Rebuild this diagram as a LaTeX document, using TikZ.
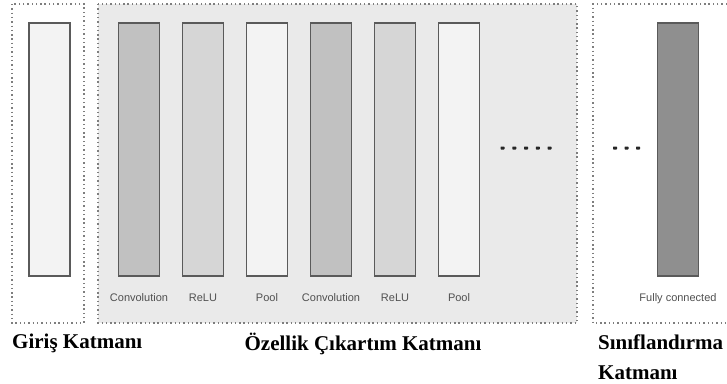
\documentclass[tikz,border=0pt]{standalone}
\usepackage{fontspec}
\setmainfont{Liberation Serif}
\setsansfont{Liberation Sans}
\usetikzlibrary{positioning}

\definecolor{panelgray}{HTML}{EAEAEA}
\definecolor{dotgray}{HTML}{7E7E7E}
\definecolor{edgegray}{HTML}{5A5A5A}
\definecolor{labelgray}{HTML}{505050}
\definecolor{palebar}{HTML}{F3F3F3}
\definecolor{convbar}{HTML}{C1C1C1}
\definecolor{relubar}{HTML}{D6D6D6}
\definecolor{fcbar}{HTML}{8F8F8F}

\begin{document}
\begin{tikzpicture}[x=1pt,y=-1pt,
  layer/.style={draw=edgegray,line width=1.1pt,minimum width=41pt,minimum height=253pt,inner sep=0pt},
  lbl/.style={font=\sffamily\fontsize{11}{13}\selectfont,text=labelgray,text height=8pt,text depth=2pt,below=13.5pt of #1},
  frame/.style={draw=dotgray,line width=1.5pt,dash pattern=on 1.4pt off 2.9pt},
  title/.style={font=\bfseries\fontsize{21}{29.5}\selectfont,inner sep=0pt}]

\useasboundingbox (0,0) rectangle (727,383);

% dotted frames of the three stages
\draw[frame] (12,4) rectangle (84,323);
\draw[frame,fill=panelgray] (98,4) rectangle (577,323);
\draw[frame] (727,4) -| (593,323) -- (727,323);

% input layer
\node[layer,fill=palebar] (input) at (49.5,149.5) {};

% feature extraction layers
\node[layer,fill=convbar] (conv1) at (139,149.5) {};
\node[layer,fill=relubar] (relu1) at (203,149.5) {};
\node[layer,fill=palebar] (pool1) at (267,149.5) {};
\node[layer,fill=convbar] (conv2) at (331,149.5) {};
\node[layer,fill=relubar] (relu2) at (395,149.5) {};
\node[layer,fill=palebar] (pool2) at (459,149.5) {};

\node[lbl=conv1] (conv1-lbl) {Convolution};
\node[lbl=relu1] (relu1-lbl) {ReLU};
\node[lbl=pool1] (pool1-lbl) {Pool};
\node[lbl=conv2] (conv2-lbl) {Convolution};
\node[lbl=relu2] (relu2-lbl) {ReLU};
\node[lbl=pool2] (pool2-lbl) {Pool};

% classification layer
\node[layer,fill=fcbar] (fc) at (678,149.5) {};
\node[lbl=fc] (fc-lbl) {Fully connected};

% continuation dots
\foreach \i in {0,...,4}
  \fill[black!85,rounded corners=0.6pt] (500.5+\i*11.75,146.5) rectangle ++(4,3);
\foreach \i in {0,...,2}
  \fill[black!85,rounded corners=0.6pt] (613+\i*11.5,146.5) rectangle ++(4,3);

% stage titles
\node[title,anchor=base west] (in-title) at (12,348) {Giriş Katmanı};
\node[title,anchor=base] (feat-title) at (363,350) {Özellik Çıkartım Katmanı};
\node[title,anchor=north west,align=left] (cls-title) at (598,335) {Sınıflandırma\\Katmanı};

\end{tikzpicture}
\end{document}
